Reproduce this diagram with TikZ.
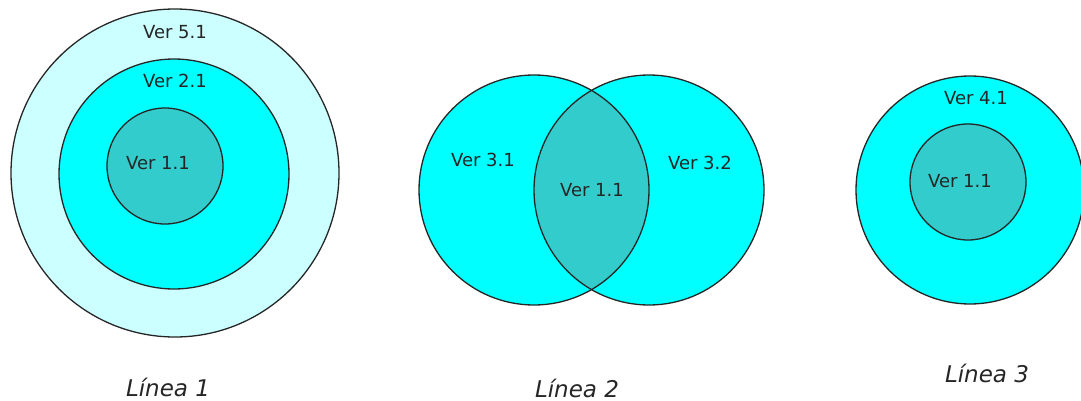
\documentclass[tikz,border=0pt]{standalone}
\usepackage{fontspec}
\setmainfont{DejaVu Sans}
\definecolor{paleaqua}{RGB}{204,255,255}
\definecolor{aqua}{RGB}{0,255,255}
\definecolor{tealcore}{RGB}{51,204,204}
\begin{document}
\begin{tikzpicture}[x=1pt,y=-1pt,
  ring/.style={draw=black!85,line width=1.3pt},
  pale/.style={fill=paleaqua},
  bright/.style={fill=aqua},
  core/.style={fill=tealcore},
  ver/.style={font=\fontsize{18}{20}\selectfont,text=black!85,inner sep=0pt},
  linea/.style={font=\itshape\fontsize{23}{25}\selectfont,text=black!85,inner sep=0pt}]
\useasboundingbox (0,0) rectangle (1081,401);
\fill[white] (0,0) rectangle (1081,401);

% Line 1: nested versions
\path[ring,pale]   (175,173) circle[radius=164];
\path[ring,bright] (174,174) circle[radius=115];
\path[ring,core]   (165,166) circle[radius=58];
\node[ver] (v51) at (175,32) {Ver 5.1};
\node[ver] (v21) at (175,81) {Ver 2.1};
\node[ver] (v11a) at (158,163) {Ver 1.1};
\node[linea] (l1) at (168,387) {Línea 1};

% Line 2: two branches sharing a common core
\path[bright] (534,190) circle[radius=115];
\path[bright] (649,190) circle[radius=115];
\begin{scope}
  \clip (534,190) circle[radius=115];
  \path[core] (649,190) circle[radius=115];
\end{scope}
\draw[ring] (534,190) circle[radius=115];
\draw[ring] (649,190) circle[radius=115];
\node[ver] (v31) at (483,160) {Ver 3.1};
\node[ver] (v32) at (700,163) {Ver 3.2};
\node[ver] (v11b) at (592,190) {Ver 1.1};
\node[linea] (l2) at (577,388) {Línea 2};

% Line 3: single extension of the core
\path[ring,bright] (970,190) circle[radius=114];
\path[ring,core]   (968,182) circle[radius=58];
\node[ver] (v41) at (976,98) {Ver 4.1};
\node[ver] (v11c) at (960,181) {Ver 1.1};
\node[linea] (l3) at (987,373) {Línea 3};
\end{tikzpicture}
\end{document}
